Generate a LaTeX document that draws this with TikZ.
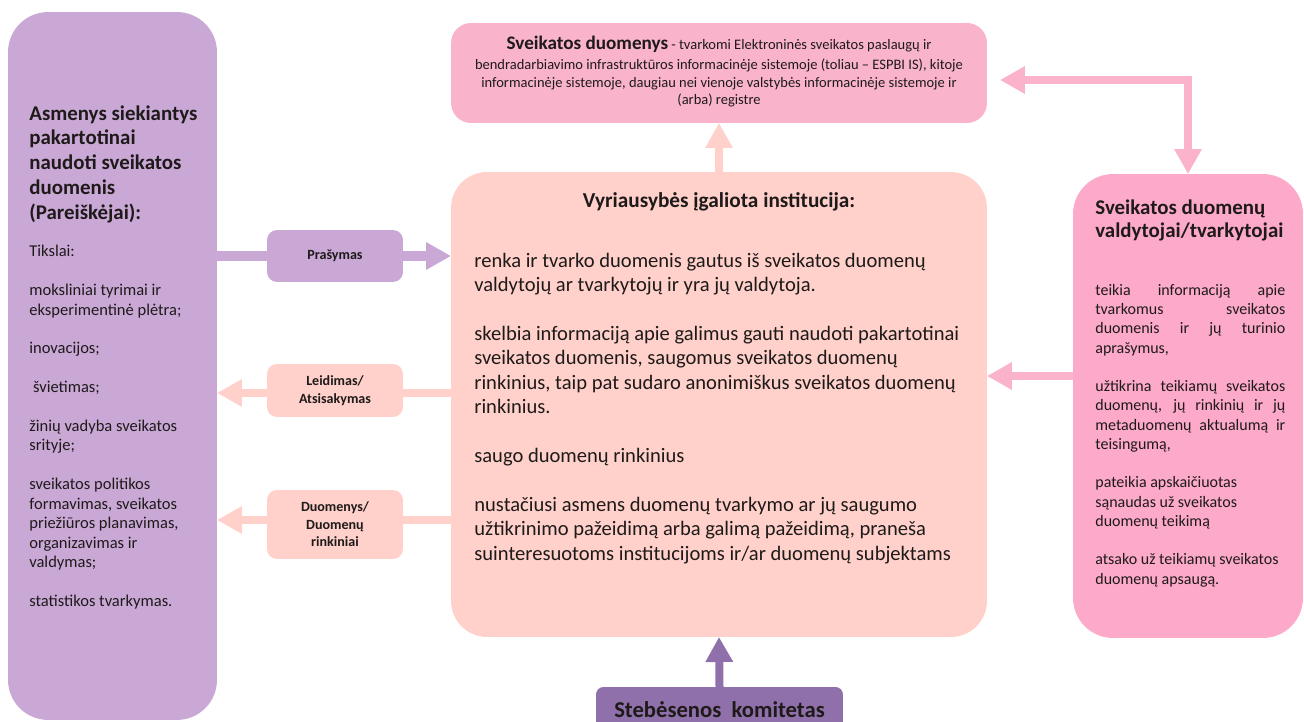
\documentclass[tikz,border=0pt]{standalone}
\usepackage{fontspec}
\setmainfont{Carlito}
\usepackage{xcolor}
\usepackage{tikz}
\usetikzlibrary{arrows.meta,positioning}
\definecolor{lilac}{HTML}{CAA8D6}
\definecolor{peach}{HTML}{FFD1CA}
\definecolor{rosetop}{HTML}{F9B3CB}
\definecolor{roseside}{HTML}{FDA9C9}
\definecolor{rosearrow}{HTML}{FBB2CB}
\definecolor{plum}{HTML}{9070AA}
\definecolor{ink}{HTML}{1E1A1A}
\newcommand{\bodysetup}{\setlength{\parindent}{0pt}\setlength{\spaceskip}{0pt}\setlength{\xspaceskip}{0pt}}
\newcommand{\jline}[1]{\makebox[3.8cm][s]{#1}}

\begin{document}
\begin{tikzpicture}[x=0.02cm, y=-0.02cm, text=ink,
  panel/.style={inner sep=0pt, outer sep=0pt},
  tag/.style={panel, rounded corners=0.2cm, minimum width=2.72cm, align=center, font=\fontsize{8pt}{10pt}\selectfont\bfseries},
  body/.style={inner sep=0pt, anchor=north west},
  fat/.style={line width=0.16cm, -{Triangle[width=0.52cm, length=0.5cm]}},
  dbl/.style={line width=0.16cm, {Triangle[width=0.52cm, length=0.5cm]}-{Triangle[width=0.52cm, length=0.5cm]}},
  bar/.style={line width=0.16cm}]
\useasboundingbox (0,0) rectangle (1304,722);
\clip (0,0) rectangle (1304,722);
\node[panel, fill=lilac, rounded corners=0.8cm, minimum width=4.18cm, minimum height=14.16cm] (app) at (112.5,366) {};
\node[panel, fill=rosetop, rounded corners=0.4cm, minimum width=10.72cm, minimum height=2cm] (src) at (719,73) {};
\node[panel, fill=peach, rounded corners=0.72cm, minimum width=10.72cm, minimum height=9.3cm] (inst) at (719,404.5) {};
\node[panel, fill=roseside, rounded corners=0.8cm, minimum width=4.6cm, minimum height=9.28cm] (ctrl) at (1188,406) {};
\node[tag, fill=lilac, minimum height=1.04cm] (req) at (335,256) {Prašymas};
\node[tag, fill=peach, minimum height=1.06cm] (perm) at (335,390.5) {Leidimas/\\Atsisakymas};
\node[tag, fill=peach, minimum height=1.38cm] (dset) at (335,524.5) {Duomenys/\\Duomenų\\rinkiniai};
\node[panel, fill=plum, rounded corners=0.15cm, minimum width=4.94cm, minimum height=0.92cm,
  font=\fontsize{12.9pt}{14pt}\selectfont\bfseries] (mon) at (719.5,710) {Stebėsenos\ \ komitetas};

\node[body, text width=3.8cm, font=\fontsize{11.9pt}{14.2pt}\selectfont\bfseries] (apptitle) at (29,105)
  {\bodysetup Asmenys siekiantys\\ pakartotinai\\ naudoti sveikatos\\ duomenis\\ (Pareiškėjai):};
\node[body, text width=3.8cm, font=\fontsize{9.4pt}{11.05pt}\selectfont] (appbody) at (29,245)
  {\bodysetup Tikslai:\\[11.05pt]
   moksliniai tyrimai ir\\ eksperimentinė plėtra;\\[11.05pt]
   inovacijos;\\[11.05pt]
   \ švietimas;\\[11.05pt]
   žinių vadyba sveikatos\\ srityje;\\[11.05pt]
   sveikatos politikos\\ formavimas, sveikatos\\ priežiūros planavimas,\\ organizavimas ir\\ valdymas;\\[11.05pt]
   statistikos tvarkymas.};

\node[inner sep=0pt, text width=10.6cm, font=\fontsize{8.25pt}{9.9pt}\selectfont] (srctext) at (719,36) [anchor=north]
  {\bodysetup\centering{\fontsize{10.9pt}{11pt}\selectfont\bfseries Sveikatos duomenys} - tvarkomi Elektroninės sveikatos paslaugų ir\\[1.4pt]
   bendradarbiavimo infrastruktūros informacinėje sistemoje (toliau – ESPBI IS), kitoje\\
   informacinėje sistemoje, daugiau nei vienoje valstybės informacinėje sistemoje ir\\
   (arba) registre\par};

\node[inner sep=0pt, font=\fontsize{12.1pt}{14pt}\selectfont\bfseries] (insttitle) at (719,202) {Vyriausybės įgaliota institucija:};
\node[body, text width=11cm, font=\fontsize{11.7pt}{13.9pt}\selectfont] (instbody) at (474,252.5)
  {\bodysetup renka ir tvarko duomenis gautus iš sveikatos duomenų\\ valdytojų ar tvarkytojų ir yra jų valdytoja.\\[13.9pt]
   skelbia informaciją apie galimus gauti naudoti pakartotinai\\ sveikatos duomenis, saugomus sveikatos duomenų\\
   rinkinius, taip pat sudaro anonimiškus sveikatos duomenų\\ rinkinius.\\[13.9pt]
   saugo duomenų rinkinius\\[13.9pt]
   nustačiusi asmens duomenų tvarkymo ar jų saugumo\\ užtikrinimo pažeidimą arba galimą pažeidimą, praneša\\
   suinteresuotoms institucijoms ir/ar duomenų subjektams};

\node[body, text width=4cm, font=\fontsize{11.9pt}{13.3pt}\selectfont\bfseries] (ctrltitle) at (1095,199.5)
  {\bodysetup Sveikatos duomenų\\ valdytojai/tvarkytojai};
\node[body, text width=3.95cm, font=\fontsize{9.1pt}{10.95pt}\selectfont] (ctrlbody) at (1095,284)
  {\bodysetup\jline{teikia informaciją apie}\\ \jline{tvarkomus sveikatos}\\ \jline{duomenis ir jų turinio}\\ aprašymus,\\[10.95pt]
   \jline{užtikrina teikiamų sveikatos}\\ \jline{duomenų, jų rinkinių ir jų}\\ \jline{metaduomenų aktualumą ir}\\ teisingumą,\\[10.95pt]
   pateikia apskaičiuotas\\ sąnaudas už sveikatos\\ duomenų teikimą\\[10.95pt]
   atsako už teikiamų sveikatos\\ duomenų apsaugą.};

\draw[lilac, line width=0.2cm] (req.west -| app.east) -- (req.west);
\draw[lilac, fat, line width=0.2cm] (req.east) -- (req.east -| inst.west);
\draw[peach, bar] ([yshift=-0.05cm]perm.east -| inst.west) -- ([yshift=-0.05cm]perm.east);
\draw[peach, fat] ([yshift=-0.05cm]perm.west) -- ([yshift=-0.05cm]perm.west -| app.east);
\draw[peach, bar] ([yshift=0.09cm]dset.east -| inst.west) -- ([yshift=0.09cm]dset.east);
\draw[peach, fat] ([yshift=0.09cm]dset.west) -- ([yshift=0.09cm]dset.west -| app.east);
\draw[peach, fat] (inst.north) -- (src.south);
\draw[plum, fat] (mon.north) -- (inst.south);
\draw[rosearrow, fat] ([yshift=0.6cm]ctrl.west) -- ([yshift=0.6cm]ctrl.west -| inst.east);
\draw[rosearrow, dbl] ([shift={(0.26cm,-0.14cm)}]src.east) -| (ctrl.north);
\end{tikzpicture}
\end{document}
